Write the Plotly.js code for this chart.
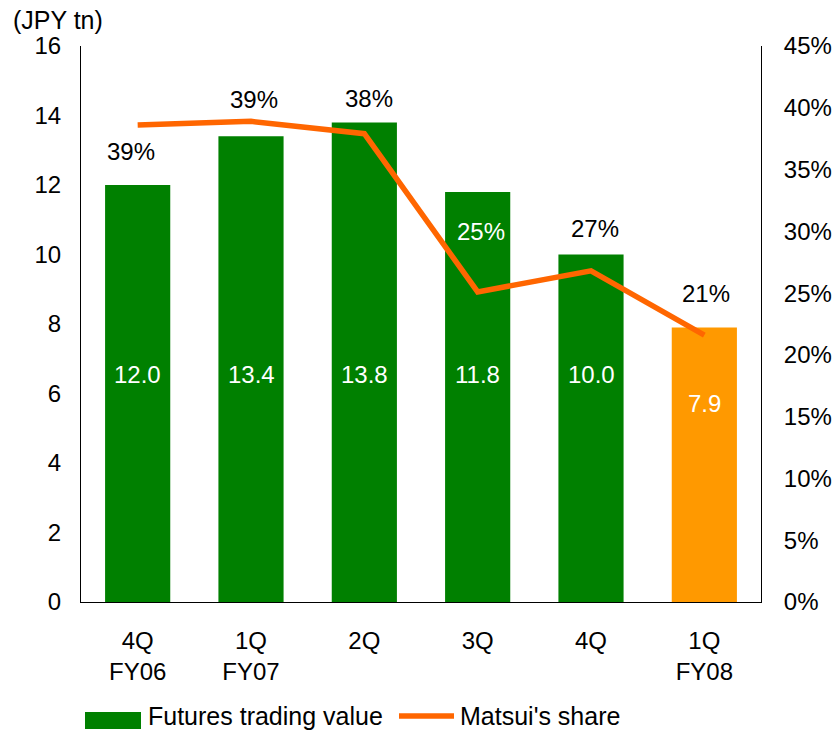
<!DOCTYPE html>
<html>
<head>
<meta charset="utf-8">
<script src="https://cdn.plot.ly/plotly-3.0.1.min.js"></script>
<style>html,body{margin:0;padding:0;background:#fff;}#chart{width:836px;height:730px;}</style>
</head>
<body>
<div id="chart"></div>
<script>
// Data
const categories = ["4Q<br>FY06", "1Q<br>FY07", "2Q", "3Q", "4Q", "1Q<br>FY08"];
const tradingValue = [12.0, 13.4, 13.8, 11.8, 10.0, 7.9];
const matsuiShare = [38.6, 38.9, 37.9, 25.1, 26.8, 21.6];
const shareLabels = ["39%", "39%", "38%", "25%", "27%", "21%"];
const seriesNames = ["Futures trading value", "Matsui's share"];

// Layout helpers (positions / styles)
const barColors = ["#008000", "#008000", "#008000", "#008000", "#008000", "#FF9900"];
const lineColor = "#FF6600";
const shareLabelY = [12.95, 14.47, 14.5, 10.65, 10.76, 8.89];   // in left-axis units
const shareLabelDX = [-7, 3, 5, 3, 4, 2];
const shareLabelColor = ["#000", "#000", "#000", "#fff", "#000", "#000"];
const valueLabelY = [6.56, 6.56, 6.56, 6.56, 6.56, 5.70];
const idx = categories.map((_, i) => i);
const font = "Liberation Sans, Arial, sans-serif";
const FS = 24;

// plot area in pixels
const L = 81, R = 761, T = 46, B = 602;
const px = x => (x - L) / (R - L);
const py = y => (B - y) / (B - T);

const traces = [
  {
    type: "bar", x: idx, y: tradingValue, name: seriesNames[0],
    marker: {color: barColors}, width: 0.575, hoverinfo: "none"
  },
  {
    type: "scatter", mode: "lines", x: idx, y: matsuiShare, yaxis: "y2",
    name: seriesNames[1], line: {color: lineColor, width: 5.5}, hoverinfo: "none"
  }
];

const annotations = [];
idx.forEach(i => {
  annotations.push({x: i, y: shareLabelY[i], xref: "x", yref: "y", xshift: shareLabelDX[i],
    text: shareLabels[i], showarrow: false,
    font: {family: font, size: FS, color: shareLabelColor[i]}});
  annotations.push({x: i, y: valueLabelY[i], xref: "x", yref: "y", text: tradingValue[i].toFixed(1),
    showarrow: false, font: {family: font, size: FS, color: "#fff"}});
});
// axis unit title
annotations.push({x: px(11), y: py(20), xref: "paper", yref: "paper",
  xanchor: "left", yanchor: "middle", text: "(JPY tn)", showarrow: false,
  font: {family: font, size: 25, color: "#000"}});
// custom legend texts
annotations.push({x: px(146), y: py(716), xref: "paper", yref: "paper", xanchor: "left",
  yanchor: "middle", text: seriesNames[0], showarrow: false, font: {family: font, size: 25, color: "#000"}});
annotations.push({x: px(458), y: py(716), xref: "paper", yref: "paper", xanchor: "left",
  yanchor: "middle", text: seriesNames[1], showarrow: false, font: {family: font, size: 25, color: "#000"}});

const shapes = [
  {type: "rect", xref: "paper", yref: "paper", x0: px(85), x1: px(141), y0: py(729), y1: py(712),
    fillcolor: barColors[0], line: {width: 0}},
  {type: "line", xref: "paper", yref: "paper", x0: px(399), x1: px(454), y0: py(716), y1: py(716),
    line: {color: lineColor, width: 5.5}}
];

const layout = {
  width: 836, height: 730,
  margin: {l: L, r: 836 - R, t: T, b: 730 - B},
  paper_bgcolor: "#fff", plot_bgcolor: "#fff",
  font: {family: font, size: FS, color: "#000"},
  showlegend: false,
  xaxis: {
    tickmode: "array", tickvals: idx, ticktext: categories,
    range: [-0.5, 5.5], showline: true, linecolor: "#000", linewidth: 1,
    ticks: "", showgrid: false, zeroline: false, fixedrange: true, automargin: false,
    tickfont: {family: font, size: FS}, ticklabelstandoff: 17
  },
  yaxis: {
    range: [0, 16], dtick: 2, showline: true, linecolor: "#000", linewidth: 1,
    ticks: "", showgrid: false, zeroline: false, automargin: false,
    tickfont: {family: font, size: FS}, ticklabelstandoff: 14
  },
  yaxis2: {
    overlaying: "y", side: "right", range: [0, 45], dtick: 5, ticksuffix: "%",
    showline: true, linecolor: "#000", linewidth: 1, ticks: "", showgrid: false,
    zeroline: false, automargin: false, tickfont: {family: font, size: FS}, ticklabelstandoff: 17
  },
  annotations: annotations,
  shapes: shapes
};

Plotly.newPlot("chart", traces, layout, {staticPlot: true, displayModeBar: false});
</script>
</body>
</html>
